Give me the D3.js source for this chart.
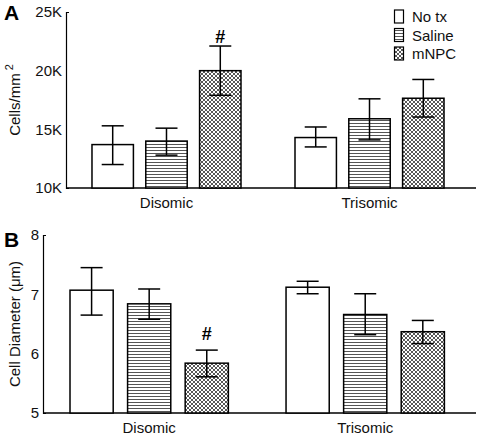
<!DOCTYPE html>
<html><head><meta charset="utf-8">
<script src="https://cdn.jsdelivr.net/npm/d3@7"></script>
<style>body{margin:0;background:#fff}svg{font-family:"Liberation Sans",Arial,sans-serif}</style>
</head><body><svg id="c" width="477" height="438"></svg>
<script>
const groups = ["Disomic", "Trisomic"];
const treatments = ["No tx", "Saline", "mNPC"];
// Panel A: Cells/mm2 (thousands)
const cellsMean = [[13.7, 14.0, 20.0], [14.3, 15.9, 17.65]];
const cellsHi   = [[15.3, 15.1, 22.1], [15.2, 17.6, 19.25]];
const cellsLo   = [[12.0, 12.8, 17.9], [13.5, 14.1, 16.05]];
const cellsTicks = [10, 15, 20, 25];
// Panel B: Cell diameter (um)
const diamMean = [[7.07, 6.84, 5.84], [7.12, 6.66, 6.37]];
const diamHi   = [[7.45, 7.09, 6.06], [7.22, 7.01, 6.56]];
const diamLo   = [[6.65, 6.58, 5.61], [7.01, 6.32, 6.17]];
const diamTicks = [5, 6, 7, 8];
const sigA = [[false, false, true], [false, false, false]];
const sigB = [[false, false, true], [false, false, false]];

const svg = d3.select("#c");
const defs = svg.append("defs");
const ph = defs.append("pattern").attr("id","hstripe").attr("patternUnits","userSpaceOnUse").attr("width",6).attr("height",3);
ph.append("rect").attr("width",6).attr("height",3).attr("fill","#fff");
ph.append("line").attr("x1",0).attr("x2",6).attr("y1",0.5).attr("y2",0.5).attr("stroke","#555").attr("stroke-width",1);
const px = defs.append("pattern").attr("id","xhatch").attr("patternUnits","userSpaceOnUse").attr("width",4).attr("height",4);
px.append("rect").attr("width",4).attr("height",4).attr("fill","#fff");
px.append("path").attr("d","M0,0L4,4M4,0L0,4M-1,3L1,5M3,-1L5,1M-1,1L1,-1M3,5L5,3").attr("stroke","#444").attr("stroke-width",0.9);
const fills = ["#fff", "url(#hstripe)", "url(#xhatch)"];

function panel(cfg) {
  const g = svg.append("g");
  const y = d3.scaleLinear().domain(cfg.domain).range([cfg.y0, cfg.y1]);
  const x0 = d3.scaleBand().domain(groups).range([cfg.xl, cfg.xr]).paddingInner(cfg.pi).paddingOuter(cfg.po);
  const x1 = d3.scaleBand().domain(treatments).range([0, x0.bandwidth()]).paddingInner(cfg.pb);
  const ay = g.append("g").attr("transform",`translate(${cfg.axisX},0)`)
    .call(d3.axisLeft(y).tickValues(cfg.ticks).tickFormat(cfg.fmt).tickSizeInner(0).tickSizeOuter(-3).tickPadding(4));
  ay.selectAll("text").attr("font-size",15).attr("fill","#111").attr("font-family","Liberation Sans, Arial, sans-serif");
  ay.select(".domain").attr("stroke","#000").attr("stroke-width",1.2);
  g.append("line").attr("x1",cfg.axisX).attr("x2",476).attr("y1",y(cfg.domain[0])).attr("y2",y(cfg.domain[0])).attr("stroke","#000").attr("stroke-width",1.5);
  const ax = g.append("g").attr("transform",`translate(0,${y(cfg.domain[0])})`)
    .call(d3.axisBottom(x0).tickSize(0).tickPadding(cfg.xpad));
  ax.select(".domain").remove();
  ax.selectAll("text").attr("font-size",15).attr("fill","#111").attr("font-family","Liberation Sans, Arial, sans-serif");
  groups.forEach((grp, gi) => {
    treatments.forEach((t, ti) => {
      const bx = x0(grp) + x1(t), bw = x1.bandwidth();
      g.append("rect").attr("x",bx).attr("y",y(cfg.mean[gi][ti])).attr("width",bw)
        .attr("height",y(cfg.domain[0]) - y(cfg.mean[gi][ti])).attr("fill",fills[ti]).attr("stroke","#000").attr("stroke-width",1.5);
      const cx = bx + bw/2, cw = 11;
      const e = g.append("g").attr("stroke","#000").attr("stroke-width",1.5);
      e.append("line").attr("x1",cx).attr("x2",cx).attr("y1",y(cfg.hi[gi][ti])).attr("y2",y(cfg.lo[gi][ti]));
      e.append("line").attr("x1",cx-cw).attr("x2",cx+cw).attr("y1",y(cfg.hi[gi][ti])).attr("y2",y(cfg.hi[gi][ti]));
      e.append("line").attr("x1",cx-cw).attr("x2",cx+cw).attr("y1",y(cfg.lo[gi][ti])).attr("y2",y(cfg.lo[gi][ti]));
      if (cfg.sig[gi][ti]) {
        g.append("text").attr("x",cx).attr("y",y(cfg.hi[gi][ti]) - cfg.sigOff).attr("text-anchor","middle")
          .attr("font-size",18).attr("font-weight","bold").attr("fill","#000").text("#");
      }
    });
  });
  const yl = g.append("text").attr("transform",`translate(${cfg.ylx},${cfg.yly}) rotate(-90)`).attr("text-anchor","middle")
    .attr("font-size",15).attr("fill","#111");
  yl.text(cfg.ylabel);
  if (cfg.sup) yl.append("tspan").attr("dy",-7).attr("font-size",11).text(cfg.sup);
  g.append("text").attr("x",4).attr("y",cfg.letterY).attr("font-size",21).attr("font-weight","bold").attr("fill","#000").text(cfg.letter);
}

panel({domain:[10,25], y0:188, y1:12, ticks:cellsTicks, fmt:d=>d+"K", axisX:66, xl:66, xr:470, pi:0.266, po:0.128, pb:0.23,
  mean:cellsMean, hi:cellsHi, lo:cellsLo, sig:sigA, sigOff:3, xpad:9, ylx:20, yly:100, ylabel:"Cells/mm", sup:" 2", letter:"A", letterY:20});
panel({domain:[5,8], y0:413, y1:235, ticks:diamTicks, fmt:d3.format("d"), axisX:43, xl:43, xr:471.4, pi:0.267, po:0.125, pb:0.25,
  mean:diamMean, hi:diamHi, lo:diamLo, sig:sigB, sigOff:10, xpad:9, ylx:20, yly:324, ylabel:"Cell Diameter (μm)", letter:"B", letterY:247});

const lg = svg.append("g");
treatments.forEach((t, i) => {
  const ly = 10 + i*18.5;
  lg.append("rect").attr("x",394.5).attr("y",ly).attr("width",9).attr("height",13).attr("fill",fills[i]).attr("stroke","#000").attr("stroke-width",1.2);
  lg.append("text").attr("x",412).attr("y",ly+12).attr("font-size",15).attr("fill","#111").text(t);
});
</script></body></html>
